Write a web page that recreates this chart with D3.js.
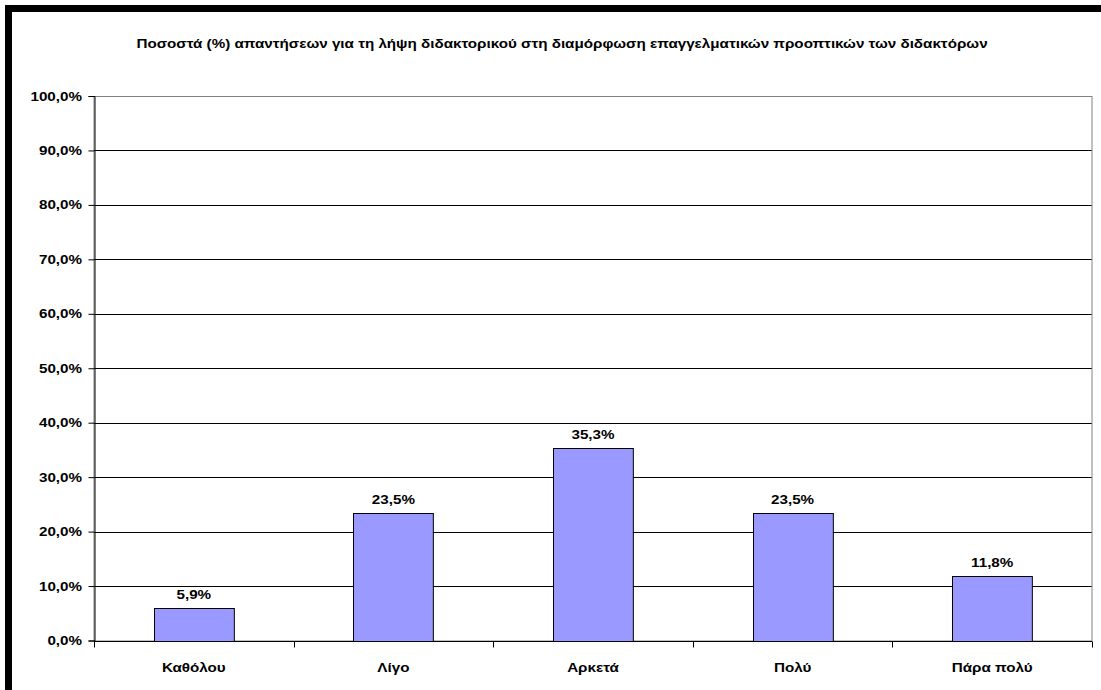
<!DOCTYPE html>
<html><head><meta charset="utf-8">
<script src="https://cdn.jsdelivr.net/npm/d3@7"></script>
<style>body{margin:0;background:#fff}svg{display:block}text{font-family:"Liberation Sans",Arial,sans-serif;font-weight:bold;fill:#000}</style>
</head><body><svg id="c" width="1101" height="690"></svg>
<script>
const categories = ["Καθόλου","Λίγο","Αρκετά","Πολύ","Πάρα πολύ"];
const values = [5.9, 23.5, 35.3, 23.5, 11.8];
const valueLabels = ["5,9%","23,5%","35,3%","23,5%","11,8%"];
const yTicks = [0,10,20,30,40,50,60,70,80,90,100];
const title = "Ποσοστά (%) απαντήσεων για τη λήψη διδακτορικού στη διαμόρφωση επαγγελματικών προοπτικών των διδακτόρων";

const SX = 1.17;
const svg = d3.select("#c");
svg.append("rect").attr("x",8.5).attr("y",8.5).attr("width",1200).attr("height",800)
  .attr("fill","none").attr("stroke","#000").attr("stroke-width",7);

const L=94, R=1092, T=96, B=640.5;
const x = d3.scaleBand().domain(categories).range([L,R]).paddingInner(0.6).paddingOuter(0.3);
const xb = d3.scaleBand().domain(categories).range([L,R]);
const y = d3.scaleLinear().domain([0,100]).range([B,T]);

function stxt(g, tx, ty, anchor, size, s){
  return g.append("text").attr("transform",`translate(${tx},${ty}) scale(${SX},1)`)
    .attr("text-anchor",anchor).style("font-size",size+"px").text(s);
}

stxt(svg, 562, 48, "middle", 13, title);

// gridlines
svg.append("g").selectAll("line").data(yTicks.filter(d=>d>0&&d<100)).join("line")
  .attr("x1",L).attr("x2",R).attr("y1",d=>Math.round(y(d))+0.5).attr("y2",d=>Math.round(y(d))+0.5)
  .attr("stroke","#000").attr("stroke-width",1);
// plot border
svg.append("rect").attr("x",L).attr("y",Math.round(T)+0.5).attr("width",R-L).attr("height",B-T)
  .attr("fill","none").attr("stroke","#808080").attr("stroke-width",1);

// bars
svg.append("g").selectAll("rect").data(values).join("rect")
  .attr("x",(d,i)=>Math.round(x(categories[i]))+0.5).attr("width",x.bandwidth())
  .attr("y",d=>Math.round(y(d))+0.5).attr("height",d=>Math.round(y(0))-Math.round(y(d)))
  .attr("fill","#9999FF").attr("stroke","#000").attr("stroke-width",1);

// value labels
const gv = svg.append("g");
values.forEach((d,i)=>stxt(gv, x(categories[i])+x.bandwidth()/2, y(d)-9, "middle", 13, valueLabels[i]));

// y axis
const ya = d3.axisLeft(y).tickValues(yTicks).tickSize(6).tickFormat("");
const gy = svg.append("g").attr("transform",`translate(${L+0.5},0)`).call(ya);
gy.select(".domain").attr("stroke","#000");
yTicks.forEach(t=>stxt(svg, 82, y(t)+4.5, "end", 13, t.toFixed(1).replace(".",",")+"%"));

// x axis
const gx = svg.append("g").attr("transform",`translate(0,${Math.round(B)+0.5})`);
gx.append("line").attr("x1",L).attr("x2",R).attr("stroke","#000");
gx.selectAll("line.t").data(d3.range(categories.length+1)).join("line").attr("class","t")
  .attr("x1",i=>Math.round(L+i*xb.bandwidth())+0.5).attr("x2",i=>Math.round(L+i*xb.bandwidth())+0.5)
  .attr("y1",0).attr("y2",6).attr("stroke","#000");
categories.forEach(c=>stxt(gx, xb(c)+xb.bandwidth()/2, 30, "middle", 13, c));
</script></body></html>
